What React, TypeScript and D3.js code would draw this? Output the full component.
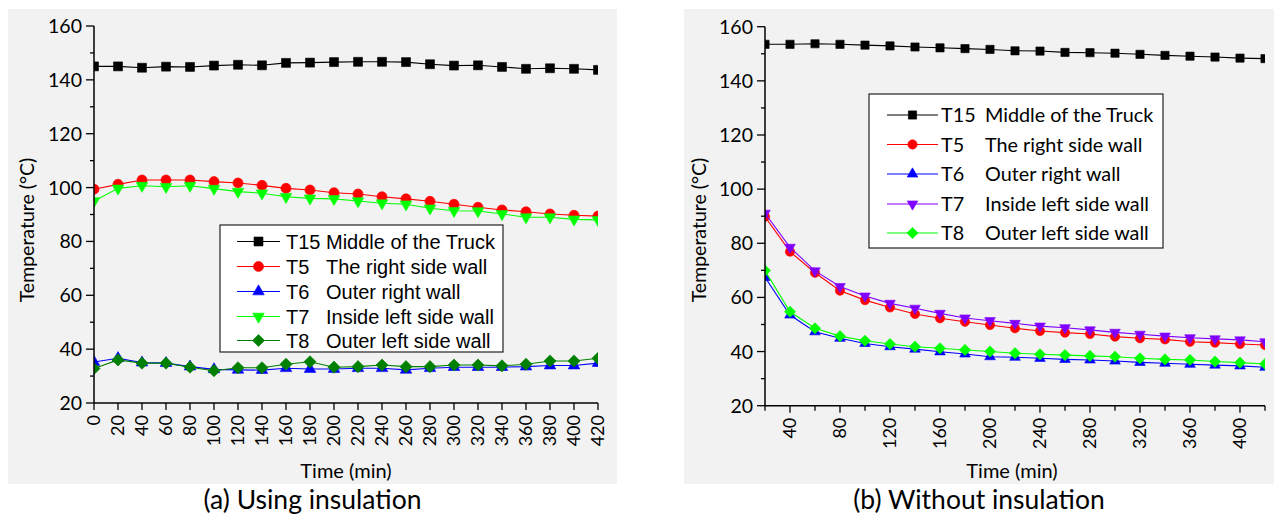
import React from "react";
import * as d3 from "d3";

// ---------- data ----------
const timeA = [0, 20, 40, 60, 80, 100, 120, 140, 160, 180, 200, 220, 240, 260, 280, 300, 320, 340, 360, 380, 400, 420];
const aT15 = [145.0, 145.0, 144.5, 144.9, 144.8, 145.3, 145.6, 145.4, 146.3, 146.4, 146.6, 146.7, 146.7, 146.6, 145.8, 145.3, 145.4, 144.8, 144.1, 144.3, 144.1, 143.7];
const aT5 = [99.4, 101.2, 102.8, 102.8, 102.8, 102.2, 101.7, 100.8, 99.7, 99.1, 98.1, 97.6, 96.6, 95.8, 94.9, 93.8, 92.7, 91.7, 91.0, 90.2, 89.7, 89.4];
const aT6 = [35.2, 36.6, 35.0, 34.8, 33.5, 32.5, 32.3, 32.2, 32.9, 32.6, 32.6, 32.9, 32.9, 32.3, 32.9, 33.3, 33.3, 33.3, 33.5, 33.9, 33.9, 34.8];
const aT7 = [95.0, 99.7, 100.7, 100.3, 100.7, 99.6, 98.5, 97.9, 96.6, 96.0, 95.8, 95.0, 94.2, 93.8, 92.3, 91.4, 91.3, 90.2, 89.0, 89.0, 88.2, 88.0];
const aT8 = [32.8, 36.0, 34.8, 34.8, 33.3, 32.0, 33.1, 33.1, 34.4, 35.3, 33.3, 33.5, 34.1, 33.5, 33.5, 34.1, 34.1, 33.8, 34.4, 35.6, 35.6, 36.6];

const timeB = [20, 40, 60, 80, 100, 120, 140, 160, 180, 200, 220, 240, 260, 280, 300, 320, 340, 360, 380, 400, 420];
const bT15 = [153.5, 153.5, 153.7, 153.5, 153.2, 152.9, 152.5, 152.2, 151.9, 151.6, 151.1, 151.0, 150.5, 150.4, 150.2, 149.8, 149.4, 149.1, 148.8, 148.4, 148.2];
const bT5 = [89.8, 76.9, 69.1, 62.5, 59.0, 56.3, 53.9, 52.3, 51.0, 49.8, 48.6, 47.6, 47.0, 46.5, 45.5, 44.9, 44.5, 43.6, 43.3, 42.8, 42.4];
const bT6 = [67.4, 53.5, 47.3, 44.9, 43.0, 41.8, 40.9, 39.9, 39.1, 38.1, 37.9, 37.5, 37.1, 36.9, 36.5, 36.0, 35.7, 35.3, 35.0, 34.7, 34.2];
const bT7 = [91.1, 78.5, 69.8, 64.0, 60.5, 57.8, 56.0, 54.1, 52.4, 51.4, 50.4, 49.4, 48.8, 48.0, 47.1, 46.4, 45.7, 45.1, 44.7, 44.3, 43.6];
const bT8 = [69.9, 54.7, 48.6, 45.7, 44.0, 42.8, 41.8, 41.2, 40.6, 40.0, 39.4, 39.0, 38.7, 38.4, 38.1, 37.5, 37.1, 36.9, 36.3, 35.9, 35.4];

const yTicks = [20, 40, 60, 80, 100, 120, 140, 160];
const yMinor = [30, 50, 70, 90, 110, 130, 150];
const xTicksA = [0, 20, 40, 60, 80, 100, 120, 140, 160, 180, 200, 220, 240, 260, 280, 300, 320, 340, 360, 380, 400, 420];
const xTicksB = [40, 80, 120, 160, 200, 240, 280, 320, 360, 400];
const xMinorB = [20, 60, 100, 140, 180, 220, 260, 300, 340, 380, 420];

const codesA = ["T15", "T5", "T6", "T7", "T8"];
const namesA = ["Middle of the Truck", "The right side wall", "Outer right wall", "Inside left side wall", "Outer left side wall"];
const codesB = ["T15", "T5", "T6", "T7", "T8"];
const namesB = ["Middle of the Truck", "The right side wall", "Outer right wall", "Inside left side wall", "Outer left side wall"];

const CAL = "Lato, 'Noto Sans', sans-serif";
const ARI = "'Liberation Sans', Arial, sans-serif";

type Shape = "square" | "circle" | "up" | "down" | "diamond";

function markerPath(shape: Shape, scale = 1) {
  switch (shape) {
    case "square":
      return d3.symbol(d3.symbolSquare, 80 * scale * scale)()!;
    case "circle":
      return d3.symbol(d3.symbolCircle, 80 * scale * scale)()!;
    case "up":
    case "down":
      return d3.symbol(d3.symbolTriangle, 58 * scale * scale)()!;
    case "diamond":
      return d3.symbol(d3.symbolSquare, 74 * scale * scale)()!;
  }
}
function markerRot(shape: Shape) {
  if (shape === "down") return " rotate(180)";
  if (shape === "diamond") return " rotate(45)";
  return "";
}

interface Series {
  vals: number[];
  color: string;
  shape: Shape;
}

function Marker({ x, y, s, scale }: { x: number; y: number; s: Series; scale: number }) {
  return (
    <path
      d={markerPath(s.shape, scale)}
      transform={`translate(${x},${y})${markerRot(s.shape)}`}
      fill={s.color}
      stroke={s.color}
      strokeWidth={0.6}
    />
  );
}

function Panel(props: {
  id: string;
  times: number[];
  series: Series[];
  x: d3.ScaleLinear<number, number>;
  y: d3.ScaleLinear<number, number>;
  xTicks: number[];
  xMinor: number[];
  tickFont: number;
  xTickFont: number;
  titleX: number;
  xTitleX: number;
  legend: { x0: number; y0: number; x1: number; y1: number; rowY: number[]; lx0: number; lx1: number; codeX: number; nameX: number; font: string; size: number };
  codes: string[];
  names: string[];
  mScale: number;
}) {
  const { id, times, series, x, y, xTicks, xMinor, legend: L } = props;
  const [xa, xb] = x.range();
  const [yb, ya] = y.range();
  const line = (vals: number[]) =>
    d3
      .line<number>()
      .x((_, i) => x(times[i]))
      .y((v) => y(v))(vals)!;
  return (
    <g>
      <defs>
        <clipPath id={id}>
          <rect x={xa} y={ya - 8} width={xb - xa} height={yb - ya + 8} />
        </clipPath>
      </defs>
      <g clipPath={`url(#${id})`}>
        {series.map((s, k) => (
          <g key={k}>
            <path d={line(s.vals)} fill="none" stroke={s.color} strokeWidth={1.1} />
            {s.vals.map((v, i) => (
              <Marker key={i} x={x(times[i])} y={y(v)} s={s} scale={props.mScale} />
            ))}
          </g>
        ))}
      </g>
      {/* y axis */}
      <line x1={xa} x2={xa} y1={ya} y2={yb} stroke="#000" strokeWidth={1.5} />
      {yTicks.map((t) => (
        <g key={t}>
          <line x1={xa - 8} x2={xa} y1={y(t)} y2={y(t)} stroke="#000" strokeWidth={1.3} />
          <text x={xa - 12} y={y(t)} dy="0.36em" textAnchor="end" fontFamily={CAL} fontSize={props.tickFont} fill="#000">
            {t}
          </text>
        </g>
      ))}
      {yMinor.map((t) => (
        <line key={t} x1={xa - 4} x2={xa} y1={y(t)} y2={y(t)} stroke="#000" strokeWidth={1.3} />
      ))}
      {/* x axis */}
      <line x1={xa} x2={xb} y1={yb} y2={yb} stroke="#000" strokeWidth={1.5} />
      {xTicks.map((t) => (
        <g key={t}>
          <line x1={x(t)} x2={x(t)} y1={yb} y2={yb + 7} stroke="#000" strokeWidth={1.3} />
          <text
            transform={`translate(${x(t)},${yb + 12}) rotate(-90)`}
            dy="0.36em"
            textAnchor="end"
            fontFamily={CAL}
            fontSize={props.xTickFont}
            fill="#000"
          >
            {t}
          </text>
        </g>
      ))}
      {xMinor.map((t) => (
        <line key={t} x1={x(t)} x2={x(t)} y1={yb} y2={yb + 5} stroke="#000" strokeWidth={1.3} />
      ))}
      {/* titles */}
      <text transform={`translate(${props.titleX},230) rotate(-90)`} textAnchor="middle" fontFamily={CAL} fontSize={19.5} fill="#000">
        Temperature (°C)
      </text>
      <text x={props.xTitleX} y={478} textAnchor="middle" fontFamily={CAL} fontSize={20} fill="#000">
        Time (min)
      </text>
      {/* legend */}
      <rect x={L.x0} y={L.y0} width={L.x1 - L.x0} height={L.y1 - L.y0} fill="#fff" stroke="#222" strokeWidth={1.2} />
      {series.map((s, k) => (
        <g key={k}>
          <line x1={L.lx0} x2={L.lx1} y1={L.rowY[k]} y2={L.rowY[k]} stroke={s.color} strokeWidth={1.1} />
          <Marker x={(L.lx0 + L.lx1) / 2} y={L.rowY[k]} s={s} scale={props.mScale} />
          <text x={L.codeX} y={L.rowY[k]} dy="0.36em" fontFamily={L.font} fontSize={L.size} fill="#000">
            {props.codes[k]}
          </text>
          <text x={L.nameX} y={L.rowY[k]} dy="0.36em" fontFamily={L.font} fontSize={L.size} fill="#000">
            {props.names[k]}
          </text>
        </g>
      ))}
    </g>
  );
}

export default function App() {
  const xA = d3.scaleLinear().domain([0, 420]).range([94, 598]);
  const yA = d3.scaleLinear().domain([20, 160]).range([403, 26]);
  const xB = d3.scaleLinear().domain([20, 420]).range([765, 1265]);
  const yB = d3.scaleLinear().domain([20, 160]).range([405.7, 26.7]);

  const seriesA: Series[] = [
    { vals: aT15, color: "#000000", shape: "square" },
    { vals: aT5, color: "#ff0000", shape: "circle" },
    { vals: aT6, color: "#0000ff", shape: "up" },
    { vals: aT7, color: "#00ff00", shape: "down" },
    { vals: aT8, color: "#008000", shape: "diamond" },
  ];
  const seriesB: Series[] = [
    { vals: bT15, color: "#000000", shape: "square" },
    { vals: bT5, color: "#ff0000", shape: "circle" },
    { vals: bT6, color: "#0000ff", shape: "up" },
    { vals: bT7, color: "#8000ff", shape: "down" },
    { vals: bT8, color: "#00ff00", shape: "diamond" },
  ];

  return (
    <svg width={1274} height={517} style={{ position: "absolute", left: 0, top: 0, background: "#fff" }}>
      <rect x={8} y={9} width={609} height={475} fill="#f2f2f2" />
      <rect x={684} y={9} width={590} height={475} fill="#f2f2f2" />
      <Panel
        id="clipA"
        times={timeA}
        series={seriesA}
        x={xA}
        y={yA}
        xTicks={xTicksA}
        xMinor={[]}
        tickFont={19.5}
        xTickFont={18}
        titleX={34}
        xTitleX={346}
        legend={{ x0: 220, y0: 225, x1: 503, y1: 352, rowY: [241.5, 266.5, 291.5, 316.5, 340.5], lx0: 237, lx1: 280, codeX: 286, nameX: 326, font: ARI, size: 20 }}
        codes={codesA}
        names={namesA}
        mScale={1}
      />
      <Panel
        id="clipB"
        times={timeB}
        series={seriesB}
        x={xB}
        y={yB}
        xTicks={xTicksB}
        xMinor={xMinorB}
        tickFont={19.5}
        xTickFont={18}
        titleX={706}
        xTitleX={1012}
        legend={{ x0: 869, y0: 94, x1: 1163, y1: 248, rowY: [115, 144.5, 174, 204, 233], lx0: 887, lx1: 938, codeX: 941, nameX: 985, font: CAL, size: 19.8 }}
        codes={codesB}
        names={namesB}
        mScale={0.92}
      />
      <text x={312.5} y={509} textAnchor="middle" fontFamily={CAL} fontSize={26.5} fill="#000">
        (a) Using insulation
      </text>
      <text x={979} y={509} textAnchor="middle" fontFamily={CAL} fontSize={26.5} fill="#000">
        (b) Without insulation
      </text>
    </svg>
  );
}
